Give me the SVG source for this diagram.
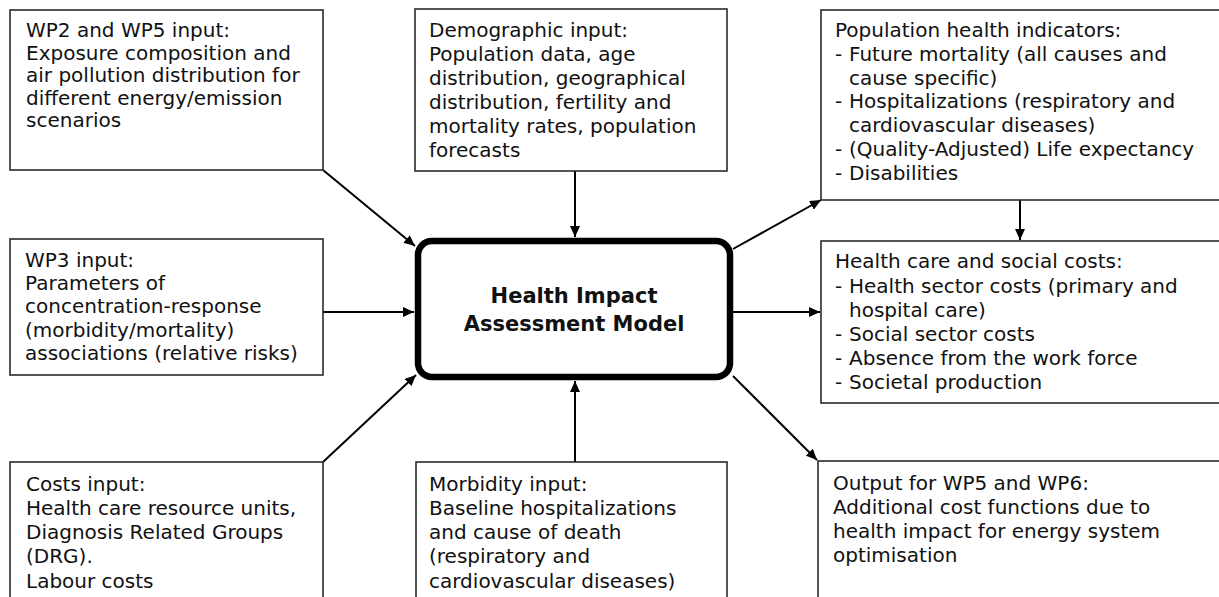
<svg xmlns="http://www.w3.org/2000/svg" width="1219" height="597" viewBox="0 0 1219 597">
<defs>
<style>
.box{fill:#fff;stroke:#2a2a2a;stroke-width:1.6}
.core{fill:#fff;stroke:#000;stroke-width:6.5}
.t{font-family:"DejaVu Sans",Verdana,sans-serif;font-size:20px;fill:#111}
.b{font-family:"DejaVu Sans",Verdana,sans-serif;font-size:21px;font-weight:bold;fill:#111;text-anchor:middle}
.c{stroke:#000;stroke-width:2;fill:none;marker-end:url(#ah)}
</style>
<marker id="ah" markerUnits="userSpaceOnUse" markerWidth="12" markerHeight="10" refX="11" refY="5" orient="auto">
<path d="M0,0 L11,5 L0,10 z" fill="#000"/>
</marker>
</defs>
<rect width="1219" height="597" fill="#fff"/>
<g id="connectors">
<line class="c" x1="323" y1="170" x2="415" y2="246"/>
<line class="c" x1="575" y1="171" x2="575" y2="237"/>
<line class="c" x1="323" y1="312" x2="414" y2="312"/>
<line class="c" x1="323" y1="462" x2="416" y2="375"/>
<line class="c" x1="575" y1="462" x2="575" y2="381"/>
<line class="c" x1="733" y1="249" x2="821" y2="200"/>
<line class="c" x1="1020" y1="200" x2="1020" y2="240"/>
<line class="c" x1="733" y1="312" x2="820" y2="312"/>
<line class="c" x1="733" y1="376" x2="817" y2="460"/>
</g>
<g id="wp2">
<rect class="box" x="10" y="10" width="313" height="160"/>
<text class="t" x="26" y="37">WP2 and WP5 input:</text>
<text class="t" x="26" y="59.5">Exposure composition and</text>
<text class="t" x="26" y="82">air pollution distribution for</text>
<text class="t" x="26" y="104.5">different energy/emission</text>
<text class="t" x="26" y="127">scenarios</text>
</g>
<g id="demographic">
<rect class="box" x="415" y="9" width="312" height="162"/>
<text class="t" x="429" y="36.5">Demographic input:</text>
<text class="t" x="429" y="60.5">Population data, age</text>
<text class="t" x="429" y="84.5">distribution, geographical</text>
<text class="t" x="429" y="108.5">distribution, fertility and</text>
<text class="t" x="429" y="132.5">mortality rates, population</text>
<text class="t" x="429" y="156.5">forecasts</text>
</g>
<g id="pophealth">
<rect class="box" x="821" y="10" width="405" height="190"/>
<text class="t" x="835" y="36.7">Population health indicators:</text>
<text class="t" x="835" y="60.6">-</text><text class="t" x="849" y="60.6">Future mortality (all causes and</text>
<text class="t" x="849" y="84.5">cause specific)</text>
<text class="t" x="835" y="108.4">-</text><text class="t" x="849" y="108.4">Hospitalizations (respiratory and</text>
<text class="t" x="849" y="132.3">cardiovascular diseases)</text>
<text class="t" x="835" y="156.2">-</text><text class="t" x="849" y="156.2">(Quality-Adjusted) Life expectancy</text>
<text class="t" x="835" y="180">-</text><text class="t" x="849" y="180">Disabilities</text>
</g>
<g id="wp3">
<rect class="box" x="10" y="239" width="313" height="136"/>
<text class="t" x="25" y="266.7">WP3 input:</text>
<text class="t" x="25" y="290">Parameters of</text>
<text class="t" x="25" y="313.3">concentration-response</text>
<text class="t" x="25" y="336.6">(morbidity/mortality)</text>
<text class="t" x="25" y="360">associations (relative risks)</text>
</g>
<g id="model">
<rect class="core" x="418" y="241" width="312" height="136" rx="14"/>
<text class="b" x="574" y="303">Health Impact</text>
<text class="b" x="574" y="330.5">Assessment Model</text>
</g>
<g id="healthcosts">
<rect class="box" x="821" y="241" width="405" height="162"/>
<text class="t" x="835" y="268.3">Health care and social costs:</text>
<text class="t" x="835" y="292.5">-</text><text class="t" x="849" y="292.5">Health sector costs (primary and</text>
<text class="t" x="849" y="316.7">hospital care)</text>
<text class="t" x="835" y="340.9">-</text><text class="t" x="849" y="340.9">Social sector costs</text>
<text class="t" x="835" y="365.1">-</text><text class="t" x="849" y="365.1">Absence from the work force</text>
<text class="t" x="835" y="389.3">-</text><text class="t" x="849" y="389.3">Societal production</text>
</g>
<g id="costs">
<rect class="box" x="10" y="462" width="313" height="150"/>
<text class="t" x="26" y="490.7">Costs input:</text>
<text class="t" x="26" y="514.9">Health care resource units,</text>
<text class="t" x="26" y="539.1">Diagnosis Related Groups</text>
<text class="t" x="26" y="563.3">(DRG).</text>
<text class="t" x="26" y="587.5">Labour costs</text>
</g>
<g id="morbidity">
<rect class="box" x="416" y="462" width="311" height="150"/>
<text class="t" x="429" y="490.7">Morbidity input:</text>
<text class="t" x="429" y="514.9">Baseline hospitalizations</text>
<text class="t" x="429" y="539.1">and cause of death</text>
<text class="t" x="429" y="563.3">(respiratory and</text>
<text class="t" x="429" y="587.5">cardiovascular diseases)</text>
</g>
<g id="output">
<rect class="box" x="818" y="461" width="408" height="150"/>
<text class="t" x="833" y="490">Output for WP5 and WP6:</text>
<text class="t" x="833" y="514">Additional cost functions due to</text>
<text class="t" x="833" y="538">health impact for energy system</text>
<text class="t" x="833" y="562">optimisation</text>
</g>
</svg>
